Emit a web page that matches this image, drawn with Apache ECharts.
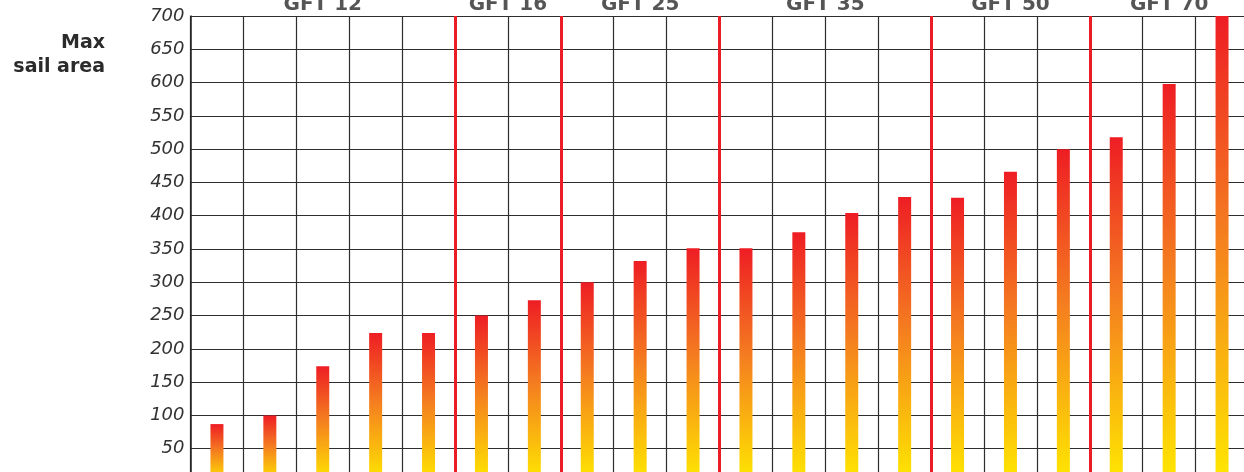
<!DOCTYPE html>
<html>
<head>
<meta charset="utf-8">
<script src="https://cdn.jsdelivr.net/npm/echarts@6/dist/echarts.min.js"></script>
<style>
html,body{margin:0;padding:0;background:#fff;}
#chart{width:1244px;height:472px;}
</style>
</head>
<body>
<div id="chart"></div>
<script>
const groupNames = ['GFT 12', 'GFT 16', 'GFT 25', 'GFT 35', 'GFT 50', 'GFT 70'];
const groupSizes = [5, 2, 3, 4, 3, 3];
const sailArea = [87, 100, 174, 224, 224, 250, 273, 300, 332, 351, 351, 375, 404, 428, 427, 466, 500, 518, 598, 700];
const yMin = 0, yMax = 700, yStep = 50;
const axisTitle = 'Max\nsail area';

const barData = sailArea.map((v, i) => [i + 0.5, v]);
const separators = [];
const groupLabels = [];
let acc = 0;
groupSizes.forEach((n, g) => {
  groupLabels.push({ value: [acc + n / 2, yMax], name: groupNames[g] });
  acc += n;
  if (g < groupSizes.length - 1) separators.push({ xAxis: acc });
});

const chart = echarts.init(document.getElementById('chart'), null, { renderer: 'canvas' });
chart.setOption({
  animation: false,
  backgroundColor: '#ffffff',
  grid: { left: 190.5, top: 16, width: 1058, height: 466, containLabel: false, outerBoundsMode: 'none' },
  xAxis: {
    type: 'value', min: 0, max: sailArea.length, interval: 1,
    axisLabel: { show: false }, axisTick: { show: false },
    axisLine: { show: false },
    splitLine: { show: true, lineStyle: { color: '#2e2e2e', width: 1.2 } }
  },
  yAxis: {
    type: 'value', min: yMin, max: yMax, interval: yStep,
    axisLine: { show: true, lineStyle: { color: '#222222', width: 1.5 } },
    axisTick: { show: false },
    axisLabel: {
      margin: 6, color: '#333333', fontSize: 18, fontStyle: 'italic',
      fontFamily: 'DejaVu Sans, sans-serif',
      formatter: v => v === 0 ? '' : String(v)
    },
    splitLine: { show: true, lineStyle: { color: '#2e2e2e', width: 1.2 } }
  },
  graphic: [{
    type: 'text', x: 105, y: 31,
    style: {
      text: axisTitle, align: 'right', textAlign: 'right', fill: '#2b2b2b',
      font: 'bold 19px "DejaVu Sans", sans-serif', lineHeight: 24
    }
  }],
  series: [
    {
      type: 'bar', data: barData, barWidth: 13,
      itemStyle: {
        color: new echarts.graphic.LinearGradient(0, 0, 0, 1, [
          { offset: 0, color: '#ee1d24' },
          { offset: 0.45, color: '#f47b20' },
          { offset: 1, color: '#ffe800' }
        ])
      },
      markLine: {
        silent: true, symbol: 'none', animation: false,
        label: { show: false },
        lineStyle: { color: '#ea1c26', width: 3, type: 'solid' },
        data: separators
      },
      z: 3
    },
    {
      type: 'scatter', data: groupLabels, symbolSize: 0, silent: true,
      label: {
        show: true, position: 'top', distance: 1,
        formatter: p => p.name,
        color: '#2a2a2a', fontSize: 20, fontWeight: 'bold',
        fontFamily: 'DejaVu Sans, sans-serif'
      },
      z: 5
    }
  ]
});
</script>
</body>
</html>
